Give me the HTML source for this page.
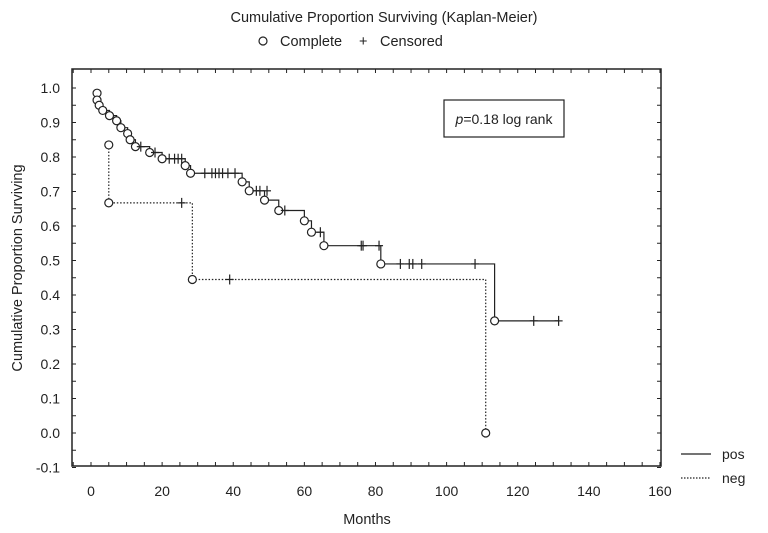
<!DOCTYPE html>
<html><head><meta charset="utf-8"><style>
body{margin:0;background:#fff;}
svg{display:block;font-family:"Liberation Sans",Arial,sans-serif;}
</style></head><body>
<svg id="s" width="768" height="533" viewBox="0 0 768 533">
<text x="384" y="22" text-anchor="middle" font-size="14.5" fill="#222">Cumulative Proportion Surviving (Kaplan-Meier)</text>
<circle cx="263" cy="41" r="4" fill="none" stroke="#222" stroke-width="1.2"/>
<text x="280" y="46" font-size="14.5" fill="#222">Complete</text>
<text x="359" y="46" font-size="14.5" fill="#222">+</text>
<text x="380" y="46" font-size="14.5" fill="#222">Censored</text>
<rect x="72" y="69" width="589" height="397" fill="none" stroke="#222" stroke-width="1.5"/>
<rect x="444" y="100" width="120" height="37" fill="none" stroke="#222" stroke-width="1.2"/>
<text x="504" y="124" text-anchor="middle" font-size="14" fill="#222"><tspan font-style="italic">p</tspan>=0.18 log rank</text>
<text transform="translate(22,268) rotate(-90)" text-anchor="middle" font-size="14.5" fill="#222">Cumulative Proportion Surviving</text>
<text x="367" y="524" text-anchor="middle" font-size="14.5" fill="#222">Months</text>
<line x1="681" y1="454" x2="711" y2="454" stroke="#222" stroke-width="1.2"/>
<text x="722" y="459" font-size="14" fill="#222">pos</text>
<line x1="681" y1="478" x2="711" y2="478" stroke="#222" stroke-width="1.2" stroke-dasharray="1.5,1.5"/>
<text x="722" y="483" font-size="14" fill="#222">neg</text>
<g id="g"></g>
</svg>
<script>
var g=document.getElementById('g'),NS='http://www.w3.org/2000/svg';
function X(m){return 91+3.556*m;}function Y(v){return 433-345*v;}
function el(t,a){var e=document.createElementNS(NS,t);for(var k in a)e.setAttribute(k,a[k]);g.appendChild(e);return e;}
function txt(x,y,s,anc){var e=el('text',{x:x,y:y,'font-size':14,fill:'#222','text-anchor':anc});e.textContent=s;}
for(var i=0;i<=11;i++){var v=1-i*0.1;var y=Y(v);txt(60,y+5,(v<-0.01?'-0.1':v.toFixed(1)),'end');}
for(var m=0;m<=160;m+=20)txt(X(m),496,String(m),'middle');
for(var m=-5;m<=160;m+=5){el('line',{x1:X(m),y1:466,x2:X(m),y2:462,stroke:'#222','stroke-width':1});el('line',{x1:X(m),y1:69,x2:X(m),y2:73,stroke:'#222','stroke-width':1});}
for(var v=-0.1;v<=1.05;v+=0.05){el('line',{x1:72,y1:Y(v),x2:76,y2:Y(v),stroke:'#222'});el('line',{x1:661,y1:Y(v),x2:657,y2:Y(v),stroke:'#222'});}
function curve(events,cens,dash,endM){
 var d='M'+X(events[0][0])+','+Y(events[0][1]);
 events.forEach(function(e){d+=' H'+X(e[0])+' V'+Y(e[1]);});
 d+=' H'+X(endM);
 var a={d:d,fill:'none',stroke:'#222','stroke-width':1.2};if(dash)a['stroke-dasharray']='1.5,1.8';
 el('path',a);
 events.forEach(function(e){el('circle',{cx:X(e[0]),cy:Y(e[1]),r:4,fill:'#fff',stroke:'#222','stroke-width':1.2});});
 cens.forEach(function(c){var x=X(c[0]),y=Y(c[1]);el('line',{x1:x,y1:y-5,x2:x,y2:y+5,stroke:'#222','stroke-width':1.2});el('line',{x1:x-4,y1:y,x2:x+4,y2:y,stroke:'#222','stroke-width':1.2});});
}
var pe=[[1.7,0.985],[1.7,0.965],[2.3,0.95],[3.3,0.935],[5.2,0.92],[7.2,0.905],[8.4,0.885],[10.3,0.868],[11,0.85],[12.5,0.83],[16.5,0.813],[20,0.795],[26.5,0.775],[28,0.753],[42.5,0.728],[44.5,0.702],[48.8,0.675],[52.8,0.645],[60,0.615],[62,0.582],[65.5,0.543],[81.5,0.49],[113.5,0.325]];
var pc=[[14,0.83],[18,0.813],[22,0.795],[23.5,0.795],[24.5,0.795],[25.5,0.795],[32,0.753],[34,0.753],[35,0.753],[36,0.753],[37,0.753],[38.5,0.753],[40.5,0.753],[46.5,0.702],[47.5,0.702],[49.5,0.702],[54.5,0.645],[64.5,0.582],[76,0.543],[76.5,0.543],[81,0.543],[87,0.49],[89.5,0.49],[90.5,0.49],[93,0.49],[108,0.49],[124.5,0.325],[131.5,0.325]];
curve(pe,pc,false,131.5);
var ne=[[5,0.835],[5,0.667],[28.5,0.445],[111,0]];
var nc=[[25.5,0.667],[39,0.445]];
curve(ne,nc,true,111);
</script>
</body></html>
